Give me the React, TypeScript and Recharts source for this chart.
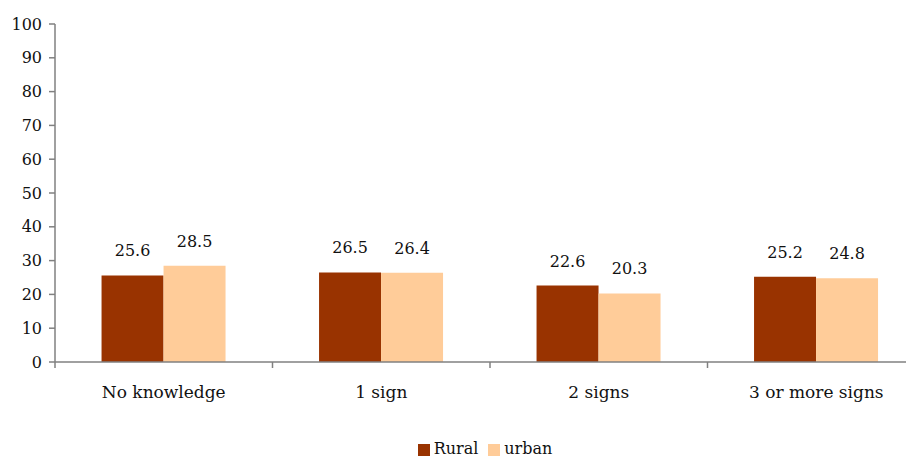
import React from "react";
import { BarChart, Bar, XAxis, YAxis, Legend, LabelList } from "recharts";

// Knowledge of warning signs, by place of residence (%)
const categories = ["No knowledge", "1 sign", "2 signs", "3 or more signs"];
const rural = [25.6, 26.5, 22.6, 25.2];
const urban = [28.5, 26.4, 20.3, 24.8];
const yTicks = [0, 10, 20, 30, 40, 50, 60, 70, 80, 90, 100];

const data = categories.map((name, i) => ({ name, rural: rural[i], urban: urban[i] }));

const FONT = "'DejaVu Serif', serif";
const AXIS = "#808080";
const TEXT = "#111";

// Category tick: a small mark at the left boundary of each band, label centred below.
const BandTick = (props: any) => {
  const { x, y, payload } = props;
  const left = payload.coordinate - (payload.offset ?? 0);
  return (
    <g>
      <line x1={left} x2={left} y1={y} y2={y + 6} stroke={AXIS} strokeWidth={1.5} />
      <text x={x} y={y} dy={36} textAnchor="middle" fill={TEXT} fontSize={17} style={{ fontFamily: FONT }}>
        {payload.value}
      </text>
    </g>
  );
};

const legendText = (value: string) => <span style={{ color: TEXT }}>{value}</span>;

export default function App() {
  return (
    <div style={{ width: 906, height: 451, overflow: "hidden", fontFamily: FONT }}>
      <BarChart
        width={917}
        height={451}
        data={data}
        margin={{ top: 16, right: 0, bottom: 0, left: 0 }}
        barCategoryGap="21.4%"
        barGap={0}
        style={{ fontFamily: FONT }}
      >
        <XAxis
          dataKey="name"
          tickLine={false}
          tickSize={0}
          tickMargin={0}
          height={77}
          stroke={AXIS}
          strokeWidth={1.5}
          tick={<BandTick />}
          interval={0}
        />
        <YAxis
          domain={[0, 100]}
          ticks={yTicks}
          width={47}
          stroke={AXIS}
          strokeWidth={1.5}
          tickSize={6}
          tickMargin={7}
          tick={{ fill: TEXT, fontSize: 16, style: { fontFamily: FONT } }}
          interval={0}
        />
        <Legend
          verticalAlign="bottom"
          align="center"
          iconType="square"
          iconSize={12}
          formatter={legendText}
          wrapperStyle={{ fontSize: 16, fontFamily: FONT, lineHeight: "20px", left: 47, width: 870, bottom: 0 }}
        />
        <Bar dataKey="rural" name="Rural" fill="#993300" isAnimationActive={false}>
          <LabelList dataKey="rural" position="top" offset={19} fill={TEXT} fontSize={16} style={{ fontFamily: FONT }} />
        </Bar>
        <Bar dataKey="urban" name="urban" fill="#FFCC99" isAnimationActive={false}>
          <LabelList dataKey="urban" position="top" offset={19} fill={TEXT} fontSize={16} style={{ fontFamily: FONT }} />
        </Bar>
      </BarChart>
    </div>
  );
}
